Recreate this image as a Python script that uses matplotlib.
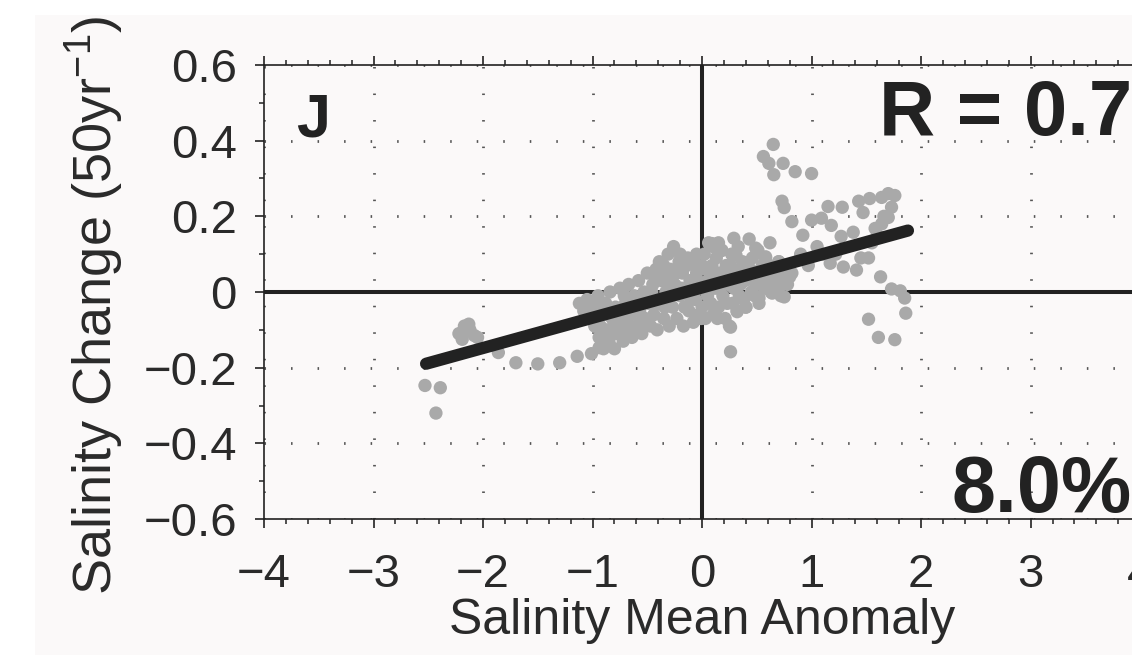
import numpy as np
import matplotlib.pyplot as plt
from matplotlib.patches import Rectangle
from matplotlib.ticker import MultipleLocator

plt.rcParams['font.family'] = ['Liberation Sans', 'DejaVu Sans']
plt.rcParams['mathtext.fontset'] = 'custom'
plt.rcParams['mathtext.rm'] = 'Liberation Sans'
plt.rcParams['mathtext.default'] = 'regular'

# left tail of the cloud
tail_x = [-2.53, -2.39, -2.43, -2.22, -2.17, -2.12, -2.08, -2.19, -2.13, -2.05,
          -1.86, -1.70, -1.50, -1.30, -1.14, -1.01, -0.94]
tail_y = [-0.247, -0.253, -0.32, -0.11, -0.09, -0.10, -0.115, -0.125, -0.085, -0.12,
          -0.16, -0.187, -0.19, -0.187, -0.17, -0.163, -0.147]

# dense core around the origin
core_x = [-1.12, -1.08, -1.05, -1.02, -1.00, -0.98, -0.95, -0.94, -0.92, -0.90, -0.88, -0.87,
          -0.85, -0.84, -0.82, -0.80, -0.79, -0.77,
          -0.75, -0.74, -0.72, -0.70, -0.69, -0.67, -0.65, -0.64, -0.62, -0.60, -0.58, -0.57,
          -0.55, -0.53, -0.52, -0.50, -0.49, -0.47,
          -0.45, -0.44, -0.42, -0.41, -0.39, -0.38, -0.36, -0.35, -0.33, -0.31, -0.30, -0.29,
          -0.27, -0.26, -0.25, -0.23, -0.21, -0.20,
          -0.18, -0.17, -0.15, -0.14, -0.12, -0.11, -0.09, -0.08, -0.06, -0.05, -0.03, -0.02,
          0.00, 0.00,
          0.02, 0.03, 0.05, 0.06, 0.07, 0.09, 0.10, 0.12, 0.13, 0.15, 0.16, 0.18, 0.19, 0.21,
          0.22, 0.24, 0.25, 0.27, 0.28, 0.30,
          0.32, 0.33, 0.35, 0.37, 0.38, 0.40, 0.41, 0.43, 0.45, 0.46, 0.48, 0.50, 0.51, 0.53,
          0.55, 0.57, 0.58, 0.60, 0.62, 0.63, 0.65, 0.68, 0.70, 0.72, 0.75, 0.78, 0.80,
          -0.96, -0.70, -0.60, -0.40, -0.32, -0.10, 0.05, 0.20, 0.35, -0.55, -0.80,
          -1.06, -0.99, -0.93, -0.86, -0.81, -0.76, -0.71, -0.66, -0.61, -0.56, -0.51, -0.46,
          -0.43, -0.37, -0.34, -0.28, -0.24, -0.19, -0.16, -0.13, -0.07, -0.04, -0.01, 0.04,
          0.08, 0.11, 0.14, 0.17, 0.23, 0.26, 0.29, 0.34, 0.39, 0.44, 0.47, 0.52, 0.56, 0.61,
          0.66, 0.69, 0.73, -0.45, -0.20, 0.10, 0.15, -0.35, -0.05, 0.25]
core_y = [-0.03, -0.05, -0.02, -0.07, -0.04, -0.09, -0.01, -0.12, -0.06, -0.15, -0.03, -0.10,
          -0.13, 0.00, -0.07, -0.15, -0.04, -0.11,
          0.01, -0.08, -0.13, -0.03, -0.10, 0.02, -0.06, -0.12, -0.01, -0.09, 0.03, -0.05,
          -0.11, 0.00, -0.07, 0.05, -0.03, -0.09,
          0.02, -0.06, 0.06, -0.10, 0.08, -0.02, 0.04, -0.07, 0.00, 0.10, -0.09, 0.06,
          -0.04, 0.12, 0.02, -0.07, 0.08, -0.01,
          0.05, -0.09, 0.00, 0.07, -0.05, 0.03, 0.08, -0.08, -0.02, 0.05, -0.06, 0.01,
          0.07, -0.04,
          0.10, -0.07, 0.03, 0.13, -0.03, 0.07, -0.06, 0.01, 0.09, -0.04, 0.05, 0.11, -0.01, -0.07,
          0.07, 0.02, -0.09, 0.10, -0.03, 0.05,
          -0.05, 0.12, 0.02, 0.08, -0.02, -0.04, 0.05, 0.14, 0.00, 0.09, -0.01, 0.04, 0.11, 0.02,
          0.07, 0.01, 0.09, 0.04, 0.13, 0.00, 0.06, 0.02, 0.08, -0.01, 0.05, 0.02, 0.04,
          -0.05, -0.07, -0.03, -0.03, 0.04, -0.02, -0.01, 0.03, 0.06, -0.02, -0.08,
          -0.06, -0.03, -0.09, -0.06, -0.11, -0.06, -0.01, -0.09, -0.05, -0.08, -0.02, 0.00,
          -0.03, 0.03, -0.04, 0.02, 0.05, 0.01, -0.04, 0.09, 0.02, 0.03, -0.07, 0.06,
          -0.03, 0.05, -0.07, 0.02, -0.03, 0.07, 0.01, -0.01, 0.03, 0.06, 0.03, -0.03, 0.04, 0.07,
          0.03, 0.05, 0.02, 0.05, 0.10, 0.12, 0.13, 0.07, 0.10, 0.04]

# right-hand arm and scattered points
arm_x = [0.65, 0.56, 0.61, 0.74, 0.655, 0.85, 1.00, 0.73, 0.75, 0.82, 1.00, 1.09, 1.15,
         1.28, 1.43, 1.53, 1.64, 1.70, 1.76, 1.73, 1.70, 1.64, 1.58, 1.47, 1.18, 1.27, 1.38,
         0.92, 0.29, 0.09, 0.18, 0.31, 0.49, 0.58, 0.70, 0.82, 1.05, 1.17, 1.29, 1.45, 1.52,
         1.41, 1.63, 1.73, 1.81, 1.85, 1.86, 1.52, 1.61, 1.76, 0.75, 0.64, 0.26, 0.26, 0.32,
         0.40, 0.52, 0.90, 0.97, 1.10, 1.22, 1.60, 1.66, 1.55]
arm_y = [0.39, 0.358, 0.34, 0.34, 0.31, 0.318, 0.313, 0.24, 0.223, 0.186, 0.19, 0.195, 0.226,
         0.224, 0.24, 0.247, 0.25, 0.26, 0.255, 0.224, 0.197, 0.18, 0.168, 0.21, 0.176, 0.147, 0.158,
         0.15, 0.142, 0.128, 0.11, 0.097, 0.116, 0.093, 0.08, 0.05, 0.12, 0.076, 0.066, 0.09, 0.09,
         0.058, 0.04, 0.008, 0.003, -0.016, -0.056, -0.072, -0.12, -0.126, -0.013, -0.003, -0.093, -0.158, -0.052,
         -0.04, -0.016, 0.10, 0.07, 0.10, 0.10, 0.15, 0.20, 0.13]

# regression line
fit_slope = 0.08
fit_icpt = 0.012
fit_xrange = [-2.52, 1.88]

panel_label = 'J'
r_label = 'R = 0.7'
pct_label = '8.0%'
xticks = [-4, -3, -2, -1, 0, 1, 2, 3, 4]
xtick_labels = ['\u22124', '\u22123', '\u22122', '\u22121', '0', '1', '2', '3', '4']
yticks = [-0.6, -0.4, -0.2, 0, 0.2, 0.4, 0.6]
ytick_labels = ['\u22120.6', '\u22120.4', '\u22120.2', '0', '0.2', '0.4', '0.6']

ink = '#222222'

fig = plt.figure(figsize=(11.32, 6.55), dpi=100)
fig.patches.append(Rectangle((35 / 1132, 0), 1, 1 - 15 / 655, transform=fig.transFigure,
                             facecolor='#fbf9f9', edgecolor='none', zorder=-10))
ax = fig.add_axes([0.2332, 0.2076, 0.774, 0.6932])
ax.set_facecolor('none')

ax.set_xlim(-4, 4)
ax.set_ylim(-0.6, 0.6)

ax.set_axisbelow(True)
ax.grid(True, which='major', color='#555555', linestyle=(0, (0.55, 9.0)), linewidth=2.0)
ax.axhline(0, color=ink, lw=2.9, zorder=1)
ax.axvline(0, color=ink, lw=2.9, zorder=1)

all_x = tail_x + core_x + arm_x
all_y = tail_y + core_y + arm_y
ax.scatter(all_x, all_y, s=92, c='#a9a9a9', edgecolors='none', zorder=2)

xs = np.array(fit_xrange)
ax.plot(xs, fit_icpt + fit_slope * xs, color=ink, lw=8.8, solid_capstyle='round', zorder=3)

ax.set_xticks(xticks)
ax.set_xticklabels(xtick_labels)
ax.set_yticks(yticks)
ax.set_yticklabels(ytick_labels)
ax.xaxis.set_minor_locator(MultipleLocator(0.2))
ax.yaxis.set_minor_locator(MultipleLocator(0.1))
ax.tick_params(which='both', direction='out', top=True, right=False, color=ink,
               labelcolor='#2a2a2a', labelsize=34)
ax.tick_params(which='major', length=6.5, width=1.2)
ax.tick_params(which='minor', length=3.6, width=1.1)
ax.tick_params(axis='x', which='major', pad=18)
ax.tick_params(axis='y', which='major', pad=13)
for sp in ax.spines.values():
    sp.set_color(ink)
    sp.set_linewidth(1.2)

ax.set_xlabel('Salinity Mean Anomaly', fontsize=36, color='#2a2a2a')
ax.xaxis.set_label_coords(0.5, -0.174)
ax.set_ylabel('Salinity Change (50yr$^{-1}$)', fontsize=39, color='#2a2a2a')
ax.yaxis.set_label_coords(-0.158, 0.47)

ax.text(-3.71, 0.41, panel_label, fontsize=44, fontweight='bold', color=ink,
        ha='left', va='baseline')
ax.text(3.93, 0.415, r_label, fontsize=56, fontweight='bold', color=ink,
        ha='right', va='baseline')
ax.text(3.925, -0.582, pct_label, fontsize=57, fontweight='bold', color=ink,
        ha='right', va='baseline')

fig.savefig('out.png', dpi=100)
